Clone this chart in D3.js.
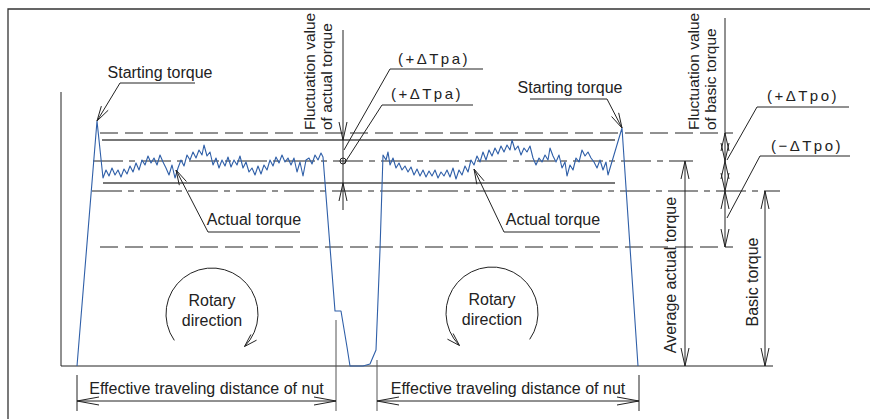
<!DOCTYPE html>
<html>
<head>
<meta charset="utf-8">
<script src="https://cdn.jsdelivr.net/npm/d3@7"></script>
<style>
  body { margin: 0; background: #fff; }
  svg text { font-family: "Liberation Sans", Arial, sans-serif; font-size: 16px; fill: #222; }
  .delta { font-size: 15px; letter-spacing: 2.5px; }
  .fluct { font-size: 15.5px; }
</style>
</head>
<body>
<svg id="chart" width="870" height="419"></svg>
<script>
// travel distance (arbitrary units) and torque (arbitrary units)
const leftRun = [
  [16, 0], [36, 245], [42, 188],
  [45, 196], [48, 190], [51, 198], [54, 191], [57, 196], [60, 189], [63, 197], [66, 192],
  [69, 200], [72, 194], [75, 203], [78, 196], [81, 206], [84, 201], [87, 210], [90, 203],
  [93, 208], [96, 201], [99, 211], [102, 204], [105, 198], [108, 191], [111, 201], [114, 188],
  [117, 198], [120, 206], [123, 200], [126, 211], [129, 206], [132, 214], [135, 208], [138, 216],
  [141, 211], [143, 221], [146, 210], [149, 214], [152, 201], [155, 208], [158, 198], [161, 206],
  [164, 200], [167, 209], [170, 199], [173, 206], [176, 201], [179, 210], [182, 198], [185, 204],
  [188, 194], [191, 198], [194, 191], [197, 200], [200, 192], [203, 201], [206, 196], [209, 206],
  [212, 200], [215, 209], [218, 203], [221, 211], [224, 204], [227, 208], [230, 201], [233, 208],
  [236, 194], [239, 204], [242, 190], [245, 206], [248, 208], [251, 202], [254, 211], [257, 206],
  [260, 213], [262, 209]
];
const changeover = [
  [262, 209], [274, 55], [280, 55], [286, 19], [289, 0], [302, 0], [309, 2], [315, 16],
  [319, 116], [322, 211]
];
const rightRun = [
  [322, 211], [325, 206], [327, 214], [329, 201], [332, 208], [335, 198], [338, 203], [341, 196],
  [344, 200], [347, 194], [350, 199], [353, 191], [356, 197], [359, 190], [362, 196], [365, 189],
  [368, 195], [371, 190], [374, 196], [377, 188], [380, 194], [383, 190], [386, 196], [389, 189],
  [392, 198], [395, 187], [398, 196], [401, 191], [404, 200], [407, 194], [410, 206], [413, 201],
  [416, 210], [419, 204], [422, 214], [425, 206], [428, 216], [431, 210], [434, 218], [437, 212],
  [440, 220], [443, 214], [446, 221], [449, 216], [451, 226], [454, 216], [457, 220], [460, 211],
  [463, 218], [466, 214], [469, 220], [472, 208], [475, 201], [478, 208], [481, 204], [484, 211],
  [487, 206], [489, 218], [492, 210], [495, 204], [498, 211], [501, 198], [504, 204], [506, 190],
  [509, 201], [512, 196], [515, 208], [518, 204], [521, 216], [524, 210], [527, 214], [530, 208],
  [533, 204], [536, 198], [539, 206], [542, 196], [545, 204], [547, 191], [561, 238], [577, 0]
];

// torque levels
const upperLimit = 233;
const upperFluct = 226;
const averageTorque = 205;
const lowerFluct = 183;
const basicTorque = 175;
const lowerLimit = 119;

// effective travel of the nut, start / end of each stroke
const strokeStart = [16, 316];
const strokeEnd = [275, 578];

const svg = d3.select('#chart');
const x = d3.scaleLinear().domain([0, 720]).range([61, 781]);
const y = d3.scaleLinear().domain([0, 245]).range([366, 121]);

const ink = '#222';

function seg(x1, y1, x2, y2, opts = {}) {
  return svg.append('line')
    .attr('x1', x1).attr('y1', y1).attr('x2', x2).attr('y2', y2)
    .attr('stroke', opts.color || ink)
    .attr('stroke-width', opts.width || 1)
    .attr('stroke-dasharray', opts.dash || null);
}

function arrow(px, py, ang, len = 18, w = 4) {
  const bx = Math.cos(ang), by = Math.sin(ang);
  const p1 = [px - bx * len - by * w, py - by * len + bx * w];
  const p2 = [px - bx * len + by * w, py - by * len - bx * w];
  svg.append('path')
    .attr('d', `M${p1}L${px},${py}L${p2}`)
    .attr('fill', 'none').attr('stroke', ink).attr('stroke-width', 1);
}

function leader(pts, withArrow) {
  svg.append('path')
    .attr('d', d3.line()(pts))
    .attr('fill', 'none').attr('stroke', ink).attr('stroke-width', 1);
  if (withArrow) {
    const [a, b] = pts.slice(-2);
    arrow(b[0], b[1], Math.atan2(b[1] - a[1], b[0] - a[0]), 15, 4);
  }
}

function label(txt, cx, by, cls) {
  svg.append('text').attr('x', cx).attr('y', by)
    .attr('text-anchor', 'middle').attr('class', cls || null).text(txt);
}

function vlabel(txt, bx, by, anchor, cls) {
  svg.append('text')
    .attr('transform', `translate(${bx},${by}) rotate(-90)`)
    .attr('class', cls || null)
    .attr('text-anchor', anchor).text(txt);
}

const UP = -Math.PI / 2, DOWN = Math.PI / 2;

// frame
svg.append('path').attr('d', 'M8,419V9H870')
  .attr('fill', 'none').attr('stroke', '#333').attr('stroke-width', 1.3);

// axis + base line
seg(x(0), 92, x(0), y(0));
seg(x(0), y(0), x(712), y(0));

// reference levels
seg(x(39), y(upperLimit), x(672), y(upperLimit), { dash: '18,7' });
seg(x(41), y(upperFluct), x(554), y(upperFluct), { color: '#777', width: 2 });
seg(x(32), y(averageTorque), x(632), y(averageTorque), { dash: '30,6,6,6' });
seg(x(42), y(lowerFluct), x(554), y(lowerFluct), { color: '#777', width: 2 });
seg(x(31), y(basicTorque), x(719), y(basicTorque), { dash: '30,6,6,6' });
seg(x(39), y(lowerLimit), x(672), y(lowerLimit), { dash: '18,7' });

// torque trace
const traceLine = d3.line().x(d => x(d[0])).y(d => y(d[1]));
svg.append('path')
  .datum(leftRun.concat(changeover.slice(1), rightRun.slice(1)))
  .attr('d', traceLine)
  .attr('fill', 'none').attr('stroke', '#2f5fa8').attr('stroke-width', 1.1)
  .attr('stroke-linejoin', 'round');

// fluctuation of actual torque
const xa = 343;
seg(xa, 30, xa, 210);
arrow(xa, y(upperFluct), DOWN);
arrow(xa, y(lowerFluct), UP);
svg.append('circle').attr('cx', xa).attr('cy', y(averageTorque)).attr('r', 3)
  .attr('fill', 'none').attr('stroke', ink);
vlabel('Fluctuation value', 315, 130, 'start', 'fluct');
vlabel('of actual torque', 332, 130, 'start', 'fluct');
leader([[483, 69], [390, 69], [xa + 1, 150]], false);
leader([[473, 105], [382, 105], [xa + 1, 164]], false);
label('(+ΔTpa)', 434, 64, 'delta');
label('(+ΔTpa)', 427, 99, 'delta');

// fluctuation of basic torque
const xb = 725;
seg(xb, 18, xb, y(lowerLimit));
arrow(xb, y(upperLimit), UP);
arrow(xb, y(averageTorque), DOWN);
arrow(xb, y(averageTorque), UP);
arrow(xb, y(basicTorque), DOWN);
arrow(xb, y(basicTorque), UP);
arrow(xb, y(lowerLimit), DOWN);
vlabel('Fluctuation value', 699, 130, 'start', 'fluct');
vlabel('of basic torque', 716, 130, 'start', 'fluct');
leader([[849, 107], [757, 107], [xb + 2, 160]], false);
leader([[850, 156], [760, 156], [xb + 2, 218]], false);
label('(+ΔTpo)', 803, 101, 'delta');
label('(−ΔTpo)', 807, 151, 'delta');

// average actual torque
const xc = 685;
seg(xc, y(averageTorque), xc, y(0));
arrow(xc, y(averageTorque), UP);
arrow(xc, y(0), DOWN);
vlabel('Average actual torque', 676, 275, 'middle');

// basic torque
const xd = 765;
seg(xd, y(basicTorque), xd, y(0));
arrow(xd, y(basicTorque), UP);
arrow(xd, y(0), DOWN);
vlabel('Basic torque', 758, 282, 'middle');

// starting torque / actual torque call-outs
leader([[195, 83], [120, 83], [x(36), y(245)]], true);
label('Starting torque', 160, 78);
leader([[530, 99], [607, 99], [x(561), y(238)]], true);
label('Starting torque', 570, 93);
leader([[300, 232], [208, 232], [176, 170]], true);
label('Actual torque', 254, 225);
leader([[600, 232], [504, 232], [474, 169]], true);
label('Actual torque', 553, 225);

// rotary direction
function rotary(cx, cy, r, a0, a1, cw) {
  const p = a => [cx + r * Math.cos(a * Math.PI / 180), cy + r * Math.sin(a * Math.PI / 180)];
  const s = p(a0), e = p(a1);
  svg.append('path')
    .attr('d', `M${s}A${r},${r} 0 1 ${cw ? 1 : 0} ${e}`)
    .attr('fill', 'none').attr('stroke', ink).attr('stroke-width', 1);
  const dir = (a1 + (cw ? 90 : -90)) * Math.PI / 180;
  arrow(e[0], e[1], dir, 13, 4);
  label('Rotary', cx, cy - 8);
  label('direction', cx, cy + 12);
}
rotary(212, 314, 46, 145, 45, true);
rotary(492, 313, 46, 35, 135, false);

// effective travelling distance of nut
const dimY = 401;
strokeStart.forEach((s, i) => {
  const xs = x(s), xe = x(strokeEnd[i]);
  seg(xs, i ? 360 : 375, xs, 411, { color: i ? '#555' : ink });
  seg(xe, i ? 375 : 320, xe, 411, { color: i ? ink : '#555' });
  seg(xs, dimY, xe, dimY);
  arrow(xs, dimY, Math.PI, 22, 4);
  arrow(xe, dimY, 0, 22, 4);
  label('Effective traveling distance of nut', (xs + xe) / 2, 394);
});
</script>
</body>
</html>
